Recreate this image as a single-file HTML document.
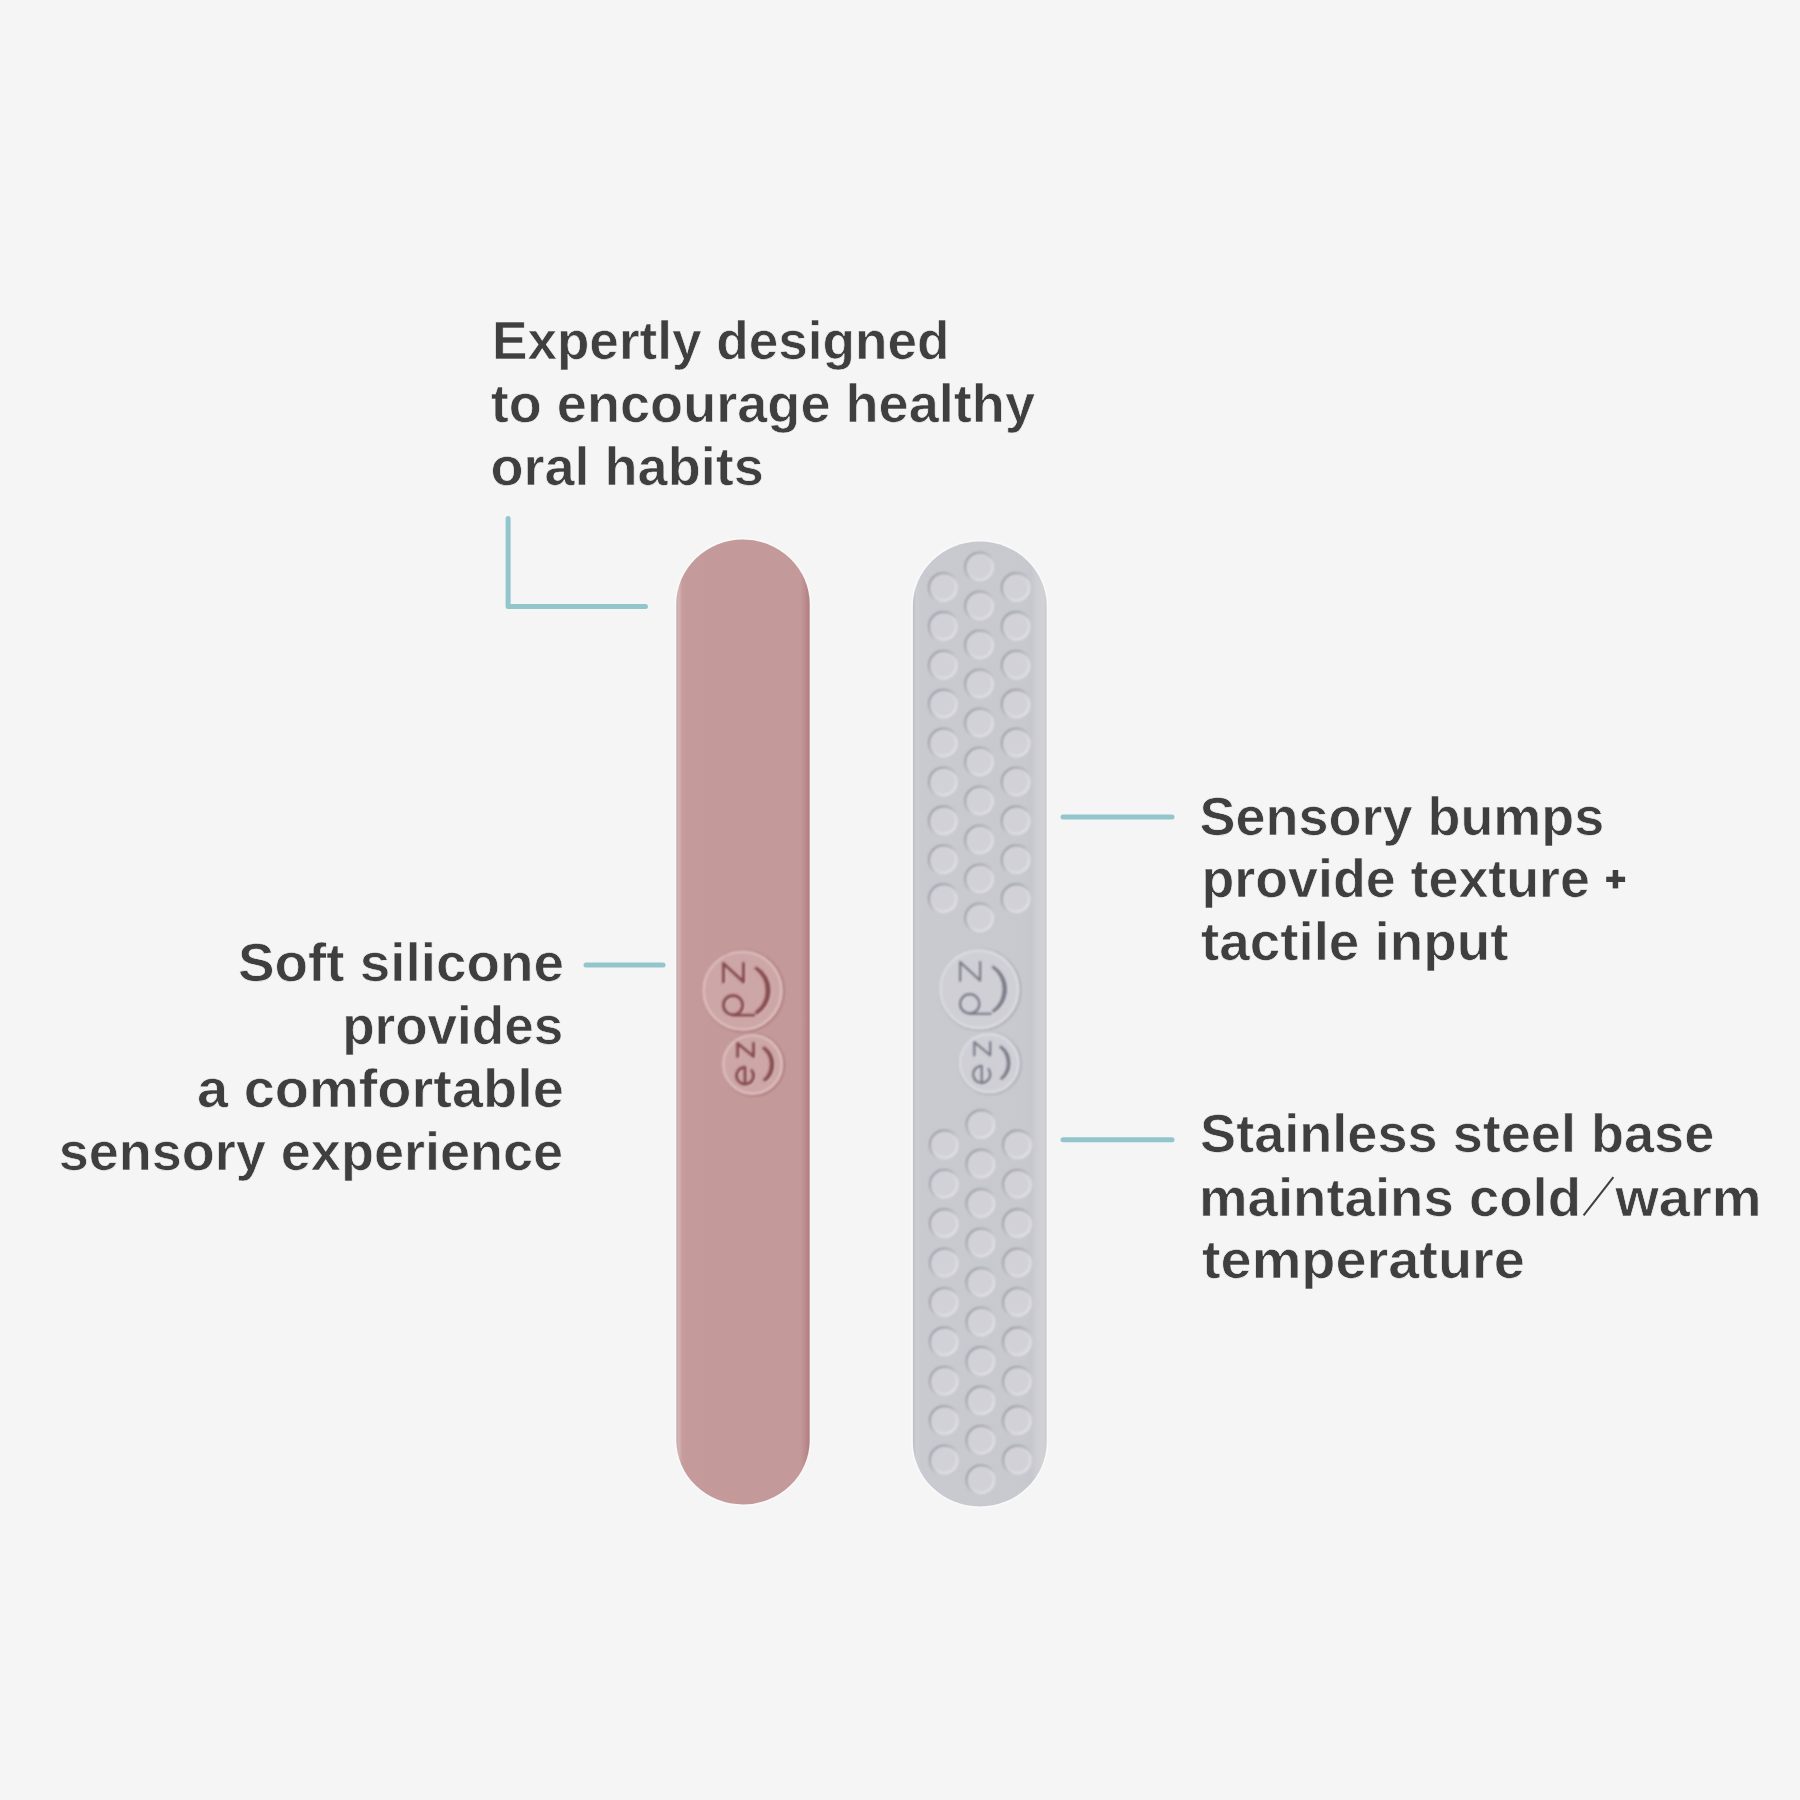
<!DOCTYPE html>
<html><head><meta charset="utf-8"><style>
html,body{margin:0;padding:0;background:#f5f5f5;}
body{width:1800px;height:1800px;overflow:hidden;position:relative}
svg{position:absolute;left:0;top:0}
text{font-family:"Liberation Sans",sans-serif;font-weight:bold;font-size:55.5px;fill:#3f3f3f;stroke:#f5f5f5;stroke-width:0.7px}
</style></head><body>
<svg width="1800" height="1800" viewBox="0 0 1800 1800">
<defs>
<linearGradient id="pinkg" x1="676.3" x2="809.7" y1="0" y2="0" gradientUnits="userSpaceOnUse">
 <stop offset="0" stop-color="#c9a7a9"/>
 <stop offset="0.02" stop-color="#d2b3b5"/>
 <stop offset="0.045" stop-color="#c69c9d"/>
 <stop offset="0.07" stop-color="#c59a9b"/>
 <stop offset="0.5" stop-color="#c4999a"/>
 <stop offset="0.93" stop-color="#c4999a"/>
 <stop offset="0.97" stop-color="#bb8a8c"/>
 <stop offset="1" stop-color="#b27d7f"/>
</linearGradient>
<linearGradient id="greyg" x1="913" x2="1047" y1="0" y2="0" gradientUnits="userSpaceOnUse">
 <stop offset="0" stop-color="#bebec7"/>
 <stop offset="0.025" stop-color="#cdcdd4"/>
 <stop offset="0.06" stop-color="#c9c9d0"/>
 <stop offset="0.84" stop-color="#c8c8cf"/>
 <stop offset="0.88" stop-color="#c6c6ce"/>
 <stop offset="0.92" stop-color="#cdcdd3"/>
 <stop offset="0.97" stop-color="#d1d1d6"/>
 <stop offset="1" stop-color="#cacad0"/>
</linearGradient>
<linearGradient id="bs" x1="0" y1="0" x2="1" y2="1">
 <stop offset="0" stop-color="#a8a8b2"/>
 <stop offset="0.5" stop-color="#babac3"/>
 <stop offset="0.6" stop-color="#d8d8de"/>
 <stop offset="1" stop-color="#e2e2e6"/>
</linearGradient>
<filter id="soft" x="-20%" y="-20%" width="140%" height="140%"><feGaussianBlur stdDeviation="0.8"/></filter>
<linearGradient id="bdark" x1="0.1" y1="0.1" x2="0.9" y2="0.9">
 <stop offset="0" stop-color="#9696a2" stop-opacity="1"/>
 <stop offset="0.45" stop-color="#a4a4b0" stop-opacity="0.8"/>
 <stop offset="0.7" stop-color="#b0b0ba" stop-opacity="0"/>
</linearGradient>
<linearGradient id="blight" x1="0.1" y1="0.1" x2="0.9" y2="0.9">
 <stop offset="0.2" stop-color="#dadae0" stop-opacity="0.2"/>
 <stop offset="0.55" stop-color="#dcdce2" stop-opacity="0.75"/>
 <stop offset="1" stop-color="#e2e2e7" stop-opacity="1"/>
</linearGradient>
<g id="bump" filter="url(#soft)">
 <circle r="14.2" fill="#d1d1d7"/>
 <circle r="14.3" fill="none" stroke="url(#bdark)" stroke-width="2.1"/>
 <circle r="13.0" fill="none" stroke="url(#blight)" stroke-width="2.3"/>
</g>
</defs>
<!-- callout lines -->
<g stroke="#93c6cc" stroke-width="5" stroke-linecap="round" stroke-linejoin="round" fill="none">
<path d="M508.1 518.5 V606.4 H645.5"/>
<path d="M586 965 H663"/>
<path d="M1063 817 H1172"/>
<path d="M1063 1139.7 H1172"/>
</g>
<!-- pink stick -->
<path d="M676.3 604 A66.7 64.5 0 0 1 809.7 604 V1440 A66.7 64.5 0 0 1 676.3 1440 Z" fill="none" stroke="#fbfbfb" stroke-width="3.5" opacity="0.55"/>
<path d="M676.3 604 A66.7 64.5 0 0 1 809.7 604 V1440 A66.7 64.5 0 0 1 676.3 1440 Z" fill="url(#pinkg)"/>
<g transform="translate(742.5,990.6)" filter="url(#soft)">
<circle r="40.5" fill="none" stroke="#a97476" stroke-width="1.6" transform="translate(0.8,0.4)"/>
<circle r="39.0" fill="#cda6a7" stroke="#dfc0c0" stroke-width="2.4"/>
</g>
<g transform="translate(752.5,1064.4)" filter="url(#soft)">
<circle r="30.8" fill="none" stroke="#a97476" stroke-width="1.6" transform="translate(0.8,0.4)"/>
<circle r="29.3" fill="#cda6a7" stroke="#dfc0c0" stroke-width="2.4"/>
</g>
<g filter="url(#soft)" transform="translate(743.4,991.3)">
<g fill="none" stroke="#ddc2c2" stroke-width="3.4" stroke-linecap="round" stroke-linejoin="round"><path d="M-19,-8.6 V-27.2 L1,-8.6 V-27.2 M-9.4,24.6 H11.5"/><circle cx="-9.4" cy="14.6" r="9.6"/></g>
<path d="M14.41,-23.07 A27.2 27.2 0 0 1 14.81,22.81 L13.17,21.72 A27.2 27.2 0 0 0 12.79,-22.01 Z" fill="#ddc2c2" stroke="#ddc2c2" stroke-width="2.2" stroke-linejoin="round"/>
</g>
<g filter="url(#soft)" transform="translate(753.4,1065.1)">
<g fill="none" stroke="#ddc2c2" stroke-width="3.4" stroke-linecap="round" stroke-linejoin="round"><path d="M-14.8,-7.8 V-21 L1.1,-7.8 V-21"/><path d="M-7.4,2.8 V19.8 M-7.4,2.8 A8.5 8.5 0 1 0 -0.6,6.2"/></g>
<path d="M11.93,-17.04 A20.8 20.8 0 0 1 12.81,16.39 L11.32,15.46 A20.8 20.8 0 0 0 10.49,-16.16 Z" fill="#ddc2c2" stroke="#ddc2c2" stroke-width="2.2" stroke-linejoin="round"/>
</g>
<g filter="url(#soft)" transform="translate(742.5,990.6)">
<g fill="none" stroke="#874c4f" stroke-width="3.1" stroke-linecap="round" stroke-linejoin="round"><path d="M-19,-8.6 V-27.2 L1,-8.6 V-27.2 M-9.4,24.6 H11.5"/><circle cx="-9.4" cy="14.6" r="9.6"/></g>
<path d="M14.41,-23.07 A27.2 27.2 0 0 1 14.81,22.81 L13.17,21.72 A27.2 27.2 0 0 0 12.79,-22.01 Z" fill="#874c4f" stroke="#874c4f" stroke-width="1.9000000000000001" stroke-linejoin="round"/>
</g>
<g filter="url(#soft)" transform="translate(752.5,1064.4)">
<g fill="none" stroke="#874c4f" stroke-width="3.1" stroke-linecap="round" stroke-linejoin="round"><path d="M-14.8,-7.8 V-21 L1.1,-7.8 V-21"/><path d="M-7.4,2.8 V19.8 M-7.4,2.8 A8.5 8.5 0 1 0 -0.6,6.2"/></g>
<path d="M11.93,-17.04 A20.8 20.8 0 0 1 12.81,16.39 L11.32,15.46 A20.8 20.8 0 0 0 10.49,-16.16 Z" fill="#874c4f" stroke="#874c4f" stroke-width="1.9000000000000001" stroke-linejoin="round"/>
</g>
<!-- grey stick -->
<path d="M912.9 606 A66.9 64.5 0 0 1 1046.7 606 V1442 A66.9 64.5 0 0 1 912.9 1442 Z" fill="none" stroke="#fbfbfb" stroke-width="3.5" opacity="0.55"/>
<path d="M912.9 606 A66.9 64.5 0 0 1 1046.7 606 V1442 A66.9 64.5 0 0 1 912.9 1442 Z" fill="url(#greyg)"/>
<use href="#bump" x="979.6" y="567.0"/><use href="#bump" x="979.6" y="606.0"/><use href="#bump" x="979.6" y="645.0"/><use href="#bump" x="979.6" y="684.0"/><use href="#bump" x="979.6" y="723.0"/><use href="#bump" x="979.6" y="762.0"/><use href="#bump" x="979.6" y="801.0"/><use href="#bump" x="979.6" y="840.0"/><use href="#bump" x="979.6" y="879.0"/><use href="#bump" x="979.6" y="918.0"/><use href="#bump" x="943.4" y="587.5"/><use href="#bump" x="1016.2" y="587.5"/><use href="#bump" x="943.4" y="626.4"/><use href="#bump" x="1016.2" y="626.4"/><use href="#bump" x="943.4" y="665.3"/><use href="#bump" x="1016.2" y="665.3"/><use href="#bump" x="943.4" y="704.2"/><use href="#bump" x="1016.2" y="704.2"/><use href="#bump" x="943.4" y="743.1"/><use href="#bump" x="1016.2" y="743.1"/><use href="#bump" x="943.4" y="782.0"/><use href="#bump" x="1016.2" y="782.0"/><use href="#bump" x="943.4" y="820.9"/><use href="#bump" x="1016.2" y="820.9"/><use href="#bump" x="943.4" y="859.8"/><use href="#bump" x="1016.2" y="859.8"/><use href="#bump" x="943.4" y="898.7"/><use href="#bump" x="1016.2" y="898.7"/><use href="#bump" x="981.0" y="1124.7"/><use href="#bump" x="981.0" y="1164.2"/><use href="#bump" x="981.0" y="1203.6"/><use href="#bump" x="981.0" y="1243.0"/><use href="#bump" x="981.0" y="1282.5"/><use href="#bump" x="981.0" y="1322.0"/><use href="#bump" x="981.0" y="1361.4"/><use href="#bump" x="981.0" y="1400.9"/><use href="#bump" x="981.0" y="1440.3"/><use href="#bump" x="981.0" y="1479.8"/><use href="#bump" x="944.3" y="1144.9"/><use href="#bump" x="1017.5" y="1144.9"/><use href="#bump" x="944.3" y="1184.3"/><use href="#bump" x="1017.5" y="1184.3"/><use href="#bump" x="944.3" y="1223.7"/><use href="#bump" x="1017.5" y="1223.7"/><use href="#bump" x="944.3" y="1263.1"/><use href="#bump" x="1017.5" y="1263.1"/><use href="#bump" x="944.3" y="1302.5"/><use href="#bump" x="1017.5" y="1302.5"/><use href="#bump" x="944.3" y="1341.9"/><use href="#bump" x="1017.5" y="1341.9"/><use href="#bump" x="944.3" y="1381.3"/><use href="#bump" x="1017.5" y="1381.3"/><use href="#bump" x="944.3" y="1420.7"/><use href="#bump" x="1017.5" y="1420.7"/><use href="#bump" x="944.3" y="1460.1"/><use href="#bump" x="1017.5" y="1460.1"/>
<g transform="translate(979.2,989.3)" filter="url(#soft)">
<circle r="40.5" fill="none" stroke="#a8a8b3" stroke-width="1.6" transform="translate(0.8,0.4)"/>
<circle r="39.0" fill="#cfcfd5" stroke="#dcdce2" stroke-width="2.4"/>
</g>
<g transform="translate(989.2,1063.1)" filter="url(#soft)">
<circle r="30.8" fill="none" stroke="#a8a8b3" stroke-width="1.6" transform="translate(0.8,0.4)"/>
<circle r="29.3" fill="#cfcfd5" stroke="#dcdce2" stroke-width="2.4"/>
</g>
<g filter="url(#soft)" transform="translate(980.1,990.0)">
<g fill="none" stroke="#dadae0" stroke-width="2.6999999999999997" stroke-linecap="round" stroke-linejoin="round"><path d="M-19,-8.6 V-27.2 L1,-8.6 V-27.2 M-9.4,24.6 H11.5"/><circle cx="-9.4" cy="14.6" r="9.6"/></g>
<path d="M14.41,-23.07 A27.2 27.2 0 0 1 14.81,22.81 L13.17,21.72 A27.2 27.2 0 0 0 12.79,-22.01 Z" fill="#dadae0" stroke="#dadae0" stroke-width="1.4999999999999998" stroke-linejoin="round"/>
</g>
<g filter="url(#soft)" transform="translate(990.1,1063.8)">
<g fill="none" stroke="#dadae0" stroke-width="2.6999999999999997" stroke-linecap="round" stroke-linejoin="round"><path d="M-14.8,-7.8 V-21 L1.1,-7.8 V-21"/><path d="M-7.4,2.8 V19.8 M-7.4,2.8 A8.5 8.5 0 1 0 -0.6,6.2"/></g>
<path d="M11.93,-17.04 A20.8 20.8 0 0 1 12.81,16.39 L11.32,15.46 A20.8 20.8 0 0 0 10.49,-16.16 Z" fill="#dadae0" stroke="#dadae0" stroke-width="1.4999999999999998" stroke-linejoin="round"/>
</g>
<g filter="url(#soft)" transform="translate(979.2,989.3)">
<g fill="none" stroke="#7c7c8a" stroke-width="2.4" stroke-linecap="round" stroke-linejoin="round"><path d="M-19,-8.6 V-27.2 L1,-8.6 V-27.2 M-9.4,24.6 H11.5"/><circle cx="-9.4" cy="14.6" r="9.6"/></g>
<path d="M14.41,-23.07 A27.2 27.2 0 0 1 14.81,22.81 L13.17,21.72 A27.2 27.2 0 0 0 12.79,-22.01 Z" fill="#7c7c8a" stroke="#7c7c8a" stroke-width="1.2" stroke-linejoin="round"/>
</g>
<g filter="url(#soft)" transform="translate(989.2,1063.1)">
<g fill="none" stroke="#7c7c8a" stroke-width="2.4" stroke-linecap="round" stroke-linejoin="round"><path d="M-14.8,-7.8 V-21 L1.1,-7.8 V-21"/><path d="M-7.4,2.8 V19.8 M-7.4,2.8 A8.5 8.5 0 1 0 -0.6,6.2"/></g>
<path d="M11.93,-17.04 A20.8 20.8 0 0 1 12.81,16.39 L11.32,15.46 A20.8 20.8 0 0 0 10.49,-16.16 Z" fill="#7c7c8a" stroke="#7c7c8a" stroke-width="1.2" stroke-linejoin="round"/>
</g>
<!-- text -->
<text transform="translate(491.97,358.7) scale(0.957,0.98)">Expertly designed</text>
<text transform="translate(490.72,421.7) scale(0.9752,0.98)">to encourage healthy</text>
<text transform="translate(490.38,484.7) scale(0.9745,0.98)">oral habits</text>
<text transform="translate(238.04,981.3) scale(0.9877,0.98)">Soft silicone</text>
<text transform="translate(342.18,1044.2) scale(0.9556,0.98)">provides</text>
<text transform="translate(196.98,1107) scale(1.0084,0.98)">a comfortable</text>
<text transform="translate(58.68,1170) scale(0.9735,0.98)">sensory experience</text>
<text transform="translate(1199.48,834.5) scale(0.9725,0.98)">Sensory bumps</text>
<text transform="translate(1201.42,897.3) scale(0.969,0.98)">provide texture</text>
<text transform="translate(1201.01,960.3) scale(0.9874,0.98)">tactile input</text>
<text transform="translate(1200.08,1152.4) scale(0.9749,0.98)">Stainless steel base</text>
<text transform="translate(1199.07,1215.8) scale(0.9834,0.98)">maintains cold</text>
<text transform="translate(1615.29,1215.8) scale(1.0093,0.98)">warm</text>
<text transform="translate(1201.99,1278) scale(1.0066,0.98)">temperature</text>
<g fill="#3f3f3f">
<rect x="1606.2" y="876.7" width="18.9" height="5.3"/>
<rect x="1612.7" y="870" width="5.5" height="18.4"/>
</g>
<line x1="1583.6" y1="1215.3" x2="1613.4" y2="1177.1" stroke="#3f3f3f" stroke-width="2"/>
</svg>
</body></html>
